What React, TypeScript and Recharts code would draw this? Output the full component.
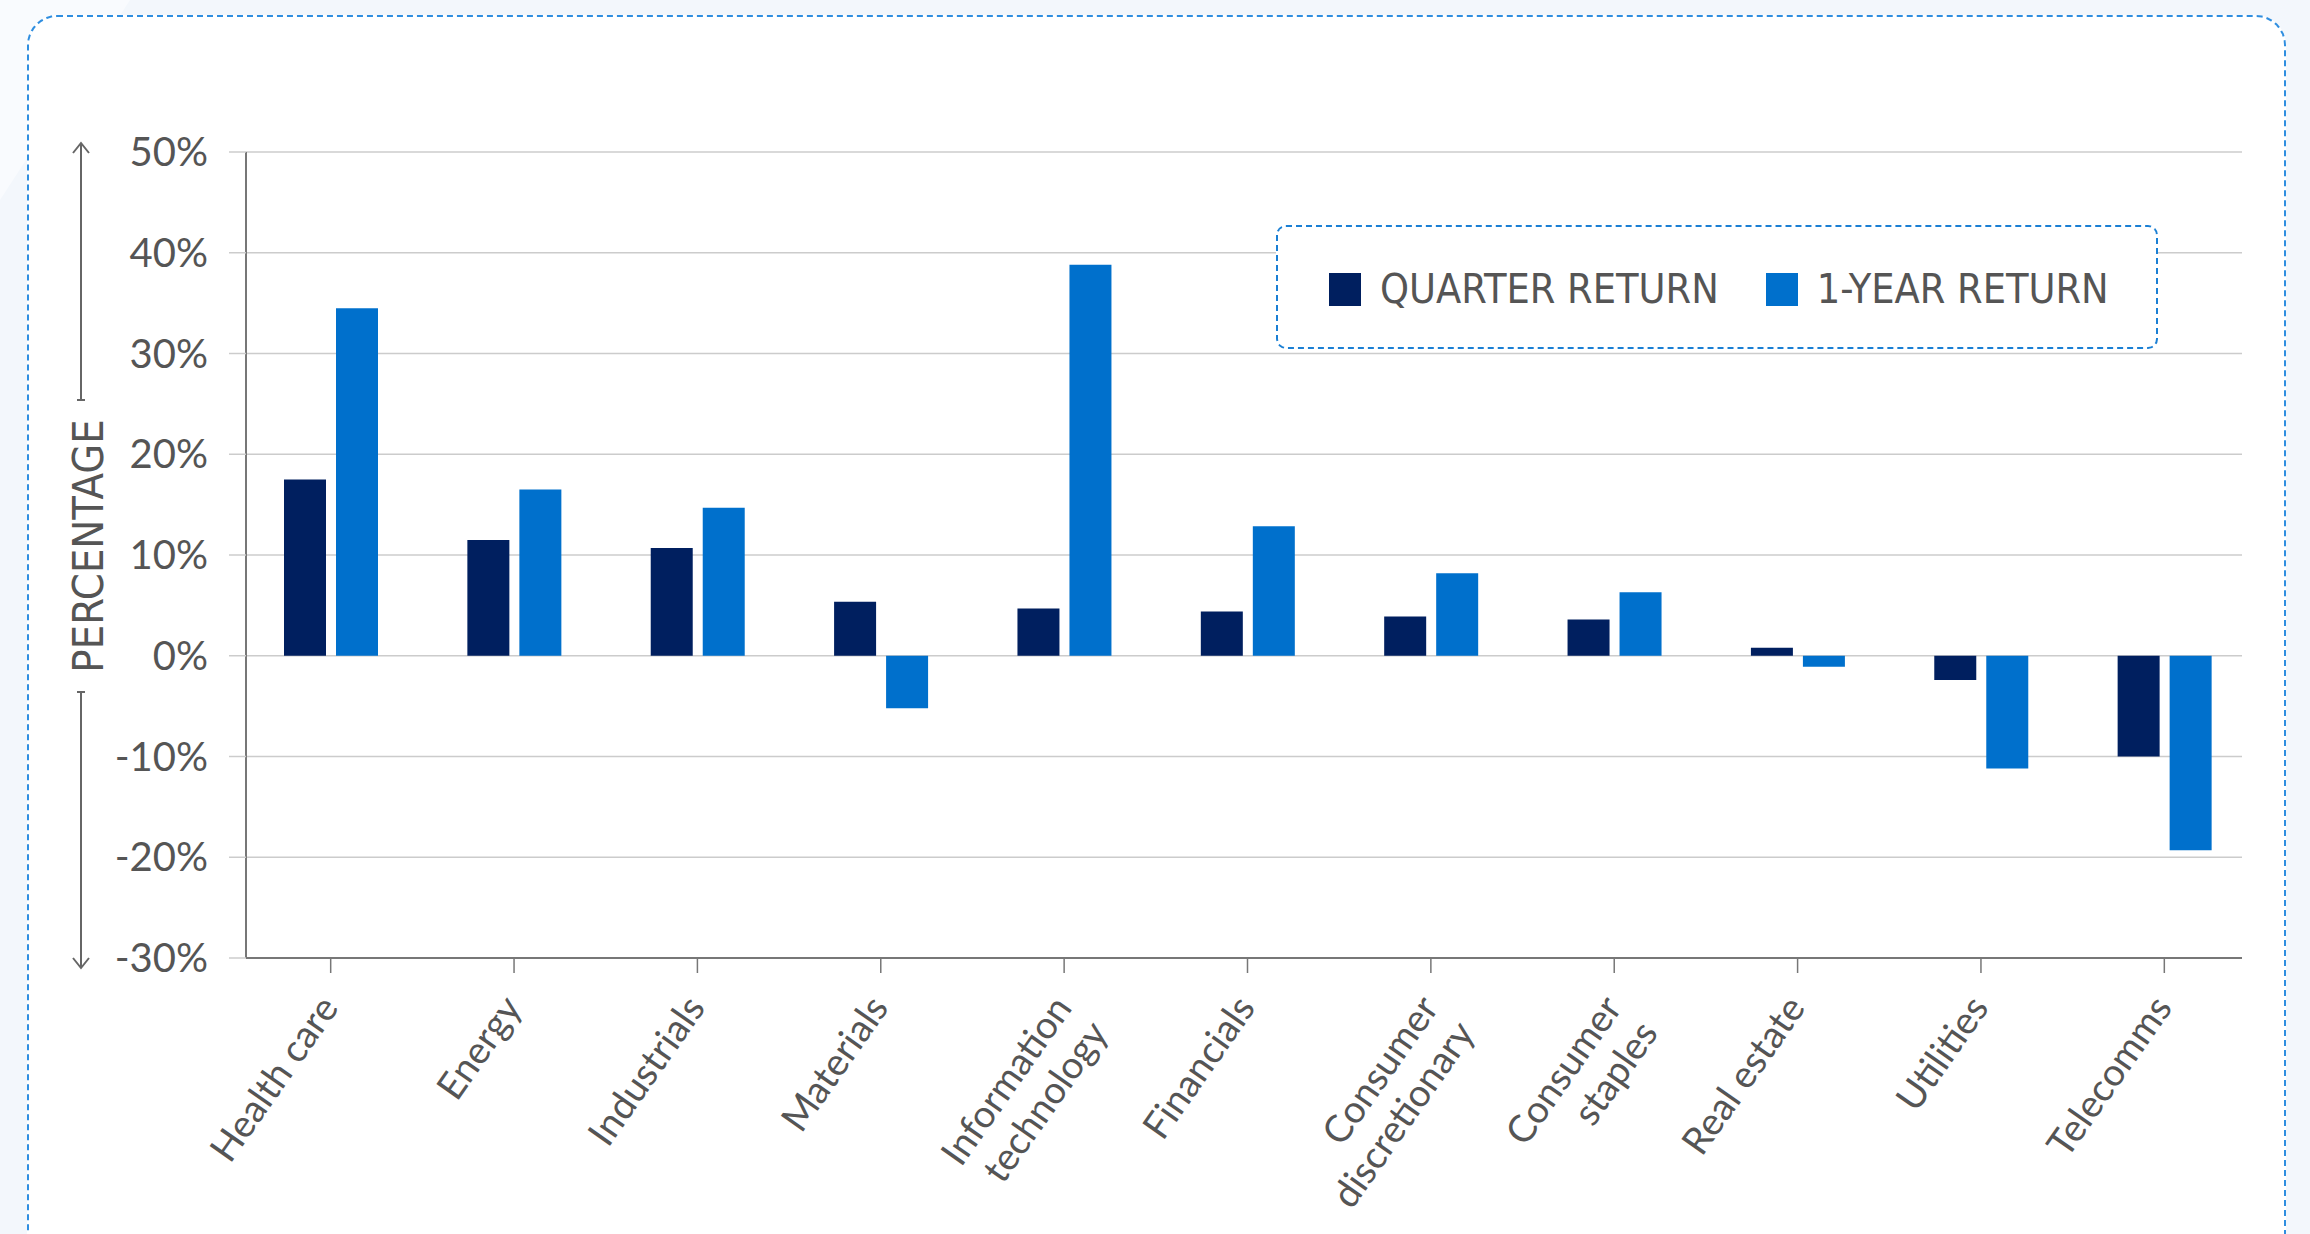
import { BarChart, Bar, XAxis, YAxis, CartesianGrid, Legend } from "recharts";

const categories = [
  "Health care",
  "Energy",
  "Industrials",
  "Materials",
  "Information technology",
  "Financials",
  "Consumer discretionary",
  "Consumer staples",
  "Real estate",
  "Utilities",
  "Telecomms",
];
const quarterReturn = [17.5, 11.5, 10.7, 5.35, 4.7, 4.4, 3.9, 3.6, 0.8, -2.4, -10.0];
const yearReturn = [34.5, 16.5, 14.7, -5.2, 38.8, 12.85, 8.2, 6.3, -1.1, -11.2, -19.3];
const yTicks = [-30, -20, -10, 0, 10, 20, 30, 40, 50];
const seriesNames = ["QUARTER RETURN", "1-YEAR RETURN"];
const seriesColors = ["#001f5f", "#0070cc"];

const data = categories.map((name, i) => ({
  name,
  quarter: quarterReturn[i],
  year: yearReturn[i],
}));

const textColor = "#555555";
const tickFont = "Lato, 'Open Sans', sans-serif";
const narrowFont = "'Liberation Sans Narrow', 'DejaVu Sans Condensed', sans-serif";

// long labels go on two lines, split at the first space
const splitLabel = (label: string): string[] => {
  if (label.length <= 12 || label.indexOf(" ") < 0) return [label];
  const i = label.indexOf(" ");
  return [label.slice(0, i), label.slice(i + 1)];
};

const CategoryTick = (props: any) => {
  const { x, y, payload } = props;
  const lines = splitLabel(String(payload.value));
  return (
    <g transform={`translate(${x + 9},${y + 33}) rotate(-55)`}>
      <text textAnchor="end" fill={textColor} fontSize={38} fontFamily={tickFont}>
        {lines.map((line, i) => (
          <tspan key={i} x={0} dy={i === 0 ? 0 : 44}>
            {line}
          </tspan>
        ))}
      </text>
    </g>
  );
};

const AxisTitle = (props: any) => {
  const { viewBox } = props;
  const cx = viewBox.x + 81;
  const top = viewBox.y - 9;
  const bottom = viewBox.y + viewBox.height + 10;
  const mid = viewBox.y + viewBox.height / 2 - 9;
  const stroke = "#666";
  return (
    <g>
      <line x1={cx} y1={top} x2={cx} y2={mid - 146} stroke={stroke} strokeWidth={2} />
      <polyline points={`${cx - 8},${top + 10} ${cx},${top} ${cx + 8},${top + 10}`} fill="none" stroke={stroke} strokeWidth={2} />
      <line x1={cx - 4} y1={mid - 146} x2={cx + 4} y2={mid - 146} stroke={stroke} strokeWidth={2} />
      <line x1={cx} y1={mid + 146} x2={cx} y2={bottom} stroke={stroke} strokeWidth={2} />
      <polyline points={`${cx - 8},${bottom - 10} ${cx},${bottom} ${cx + 8},${bottom - 10}`} fill="none" stroke={stroke} strokeWidth={2} />
      <line x1={cx - 4} y1={mid + 146} x2={cx + 4} y2={mid + 146} stroke={stroke} strokeWidth={2} />
      <text
        x={cx + 22}
        y={mid}
        transform={`rotate(-90 ${cx + 22} ${mid})`}
        textAnchor="middle"
        fill={textColor}
        fontSize={43}
        fontFamily={narrowFont}
      >
        PERCENTAGE
      </text>
    </g>
  );
};

const LegendBox = () => (
  <div
    style={{
      boxSizing: "border-box",
      width: 882,
      height: 124,
      border: "2px dashed #1a7fd4",
      borderRadius: 10,
      background: "#fff",
      display: "flex",
      alignItems: "center",
      paddingLeft: 51,
      paddingTop: 5,
      fontFamily: narrowFont,
      fontSize: 41,
      color: textColor,
      whiteSpace: "nowrap",
    }}
  >
    {seriesNames.map((name, i) => (
      <div key={name} style={{ display: "flex", alignItems: "center", marginRight: 47, flexShrink: 0 }}>
        <div style={{ width: 32, height: 33, background: seriesColors[i], marginRight: 19, flexShrink: 0 }} />
        <span style={{ lineHeight: 1 }}>{name}</span>
      </div>
    ))}
  </div>
);

const App = () => {
  return (
    <div
      style={{
        position: "absolute",
        left: 0,
        top: 0,
        width: 2310,
        height: 1234,
        overflow: "hidden",
        background: "#f3f7fc",
      }}
    >
      <div
        style={{
          position: "absolute",
          left: 0,
          top: 0,
          width: 130,
          height: 200,
          background: "#f9fbfe",
          clipPath: "polygon(0 0, 100% 0, 0 100%)",
        }}
      />
      <div
        style={{
          position: "absolute",
          left: 27,
          top: 15,
          width: 2259,
          height: 1300,
          boxSizing: "border-box",
          border: "2px dashed #2f8ee0",
          borderRadius: 30,
          background: "#ffffff",
        }}
      />
      <div style={{ position: "absolute", left: 0, top: 0 }}>
        <BarChart
          width={2310}
          height={1234}
          data={data}
          margin={{ top: 152, right: 68, bottom: 0, left: 0 }}
          barGap={10}
        >
          <CartesianGrid vertical={false} stroke="#cccccc" strokeWidth={1.5} />
          <XAxis
            dataKey="name"
            height={276}
            interval={0}
            padding={{ left: -7, right: -14 }}
            tick={<CategoryTick />}
            tickSize={15}
            axisLine={{ stroke: "#777", strokeWidth: 2 }}
            tickLine={{ stroke: "#777", strokeWidth: 1.5 }}
          />
          <YAxis
            width={246}
            domain={[-30, 50]}
            ticks={yTicks}
            interval={0}
            tickFormatter={(v: number) => `${v}%`}
            tick={{ fill: textColor, fontSize: 40, fontFamily: tickFont }}
            tickSize={17}
            tickMargin={21}
            axisLine={{ stroke: "#777", strokeWidth: 2 }}
            tickLine={{ stroke: "#cccccc", strokeWidth: 1.5 }}
            label={<AxisTitle />}
          />
          <Legend
            align="center"
            verticalAlign="middle"
            content={<LegendBox />}
            wrapperStyle={{ left: 1276, top: 225, width: 882, height: 124 }}
          />
          <Bar dataKey="quarter" name={seriesNames[0]} fill={seriesColors[0]} barSize={42} isAnimationActive={false} />
          <Bar dataKey="year" name={seriesNames[1]} fill={seriesColors[1]} barSize={42} isAnimationActive={false} />
        </BarChart>
      </div>
    </div>
  );
};

export default App;
